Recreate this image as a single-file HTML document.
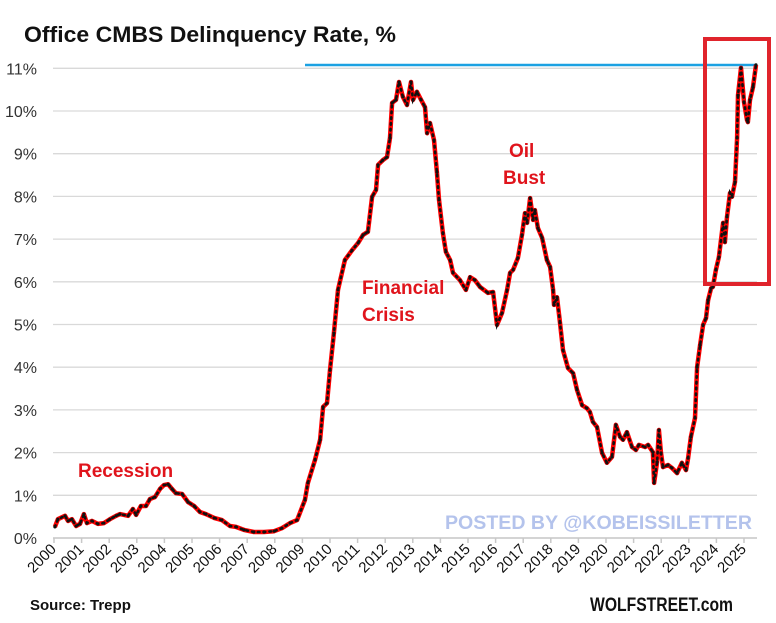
<!DOCTYPE html>
<html><head><meta charset="utf-8"><style>
body{margin:0;background:#fff;}
svg{display:block;font-family:"Liberation Sans",Arial,sans-serif;}
</style></head><body>
<svg width="776" height="623" viewBox="0 0 776 623">
<text x="24" y="42" font-size="22" font-weight="bold" fill="#111" textLength="372" lengthAdjust="spacingAndGlyphs">Office CMBS Delinquency Rate, %</text>
<g id="grid"></g>
<g id="yl"></g>
<g id="xl"></g>
<line x1="305" y1="65" x2="757" y2="65" stroke="#1ba1e2" stroke-width="2.5"/>
<text x="445" y="529" font-size="19" font-weight="bold" fill="#b4c3ec" textLength="307" lengthAdjust="spacingAndGlyphs">POSTED BY @KOBEISSILETTER</text>
<g id="series"></g>
<rect x="705" y="39" width="64" height="245" fill="none" stroke="#e0242c" stroke-width="4"/>
<text x="78" y="477" font-size="19" font-weight="bold" fill="#e0141c">Recession</text>
<text x="362" y="294" font-size="19" font-weight="bold" fill="#e0141c"><tspan x="362">Financial</tspan><tspan x="362" dy="27">Crisis</tspan></text>
<text x="509" y="157" font-size="19" font-weight="bold" fill="#e0141c"><tspan x="509">Oil</tspan><tspan x="503" dy="27">Bust</tspan></text>
<text x="30" y="610" font-size="15" font-weight="bold" fill="#111">Source: Trepp</text>
<text x="733" y="611" font-size="19" font-weight="bold" fill="#111" text-anchor="end" textLength="143" lengthAdjust="spacingAndGlyphs">WOLFSTREET.com</text>
</svg>
<script>
// months since Jan 2000
const months=[0.4,1.7,4.8,6.1,7.8,9.6,11.3,13.0,14.3,16.5,19.1,21.7,24.3,27.0,28.7,32.2,34.3,35.7,37.8,40.0,41.7,43.9,46.1,47.8,49.6,51.3,53.0,55.7,58.3,60.9,63.5,66.1,69.6,73.0,76.5,79.1,82.6,86.9,91.3,95.7,99.1,102.6,
105.7,109.1,110.4,113.5,115.7,117.0,118.7,120.0,121.7,123.5,126.5,129.6,132.2,134.4,136.5,138.3,140.0,140.9,143.0,144.8,146.1,147.0,148.7,150.0,151.7,153.5,155.2,156.1,157.8,159.6,161.3,162.2,163.5,165.2,166.5,167.4,169.1,170.4,172.2,173.5,176.5,179.1,180.9,183.0,185.2,188.7,
190.9,192.6,194.8,197.0,198.3,199.6,201.7,203.5,204.8,205.7,207.0,208.3,209.1,210.4,212.2,214.3,215.7,217.0,217.4,218.7,220.0,221.3,223.5,225.7,227.4,229.6,231.7,233.0,234.3,236.1,238.3,240.4,242.6,244.3,246.1,247.4,249.1,251.3,253.0,254.3,
257.0,258.3,260.4,260.9,262.2,263.0,263.9,264.8,267.0,268.7,270.9,273.0,274.8,275.7,276.9,278.7,279.6,280.9,282.2,283.5,284.4,285.7,286.5,287.8,289.1,290.9,291.7,292.6,293.9,294.8,296.1,297.0,297.4,298.7,300.0,301.3,301.7,302.6,303.9,305.2];
const rates=[0.26,0.44,0.52,0.40,0.44,0.28,0.33,0.56,0.35,0.40,0.33,0.35,0.44,0.52,0.56,0.52,0.68,0.54,0.75,0.75,0.91,0.96,1.15,1.24,1.26,1.15,1.05,1.03,0.84,0.75,0.61,0.56,0.47,0.42,0.28,0.26,0.19,0.14,0.14,0.16,0.23,0.35,
0.42,0.89,1.29,1.83,2.30,3.07,3.16,3.93,4.80,5.81,6.51,6.74,6.91,7.10,7.17,7.99,8.15,8.74,8.85,8.92,9.37,10.19,10.26,10.68,10.33,10.14,10.68,10.26,10.45,10.26,10.09,9.48,9.72,9.32,8.57,7.92,7.14,6.70,6.51,6.21,6.04,5.81,6.11,6.04,5.88,5.74,
5.76,4.99,5.27,5.81,6.21,6.28,6.56,7.10,7.61,7.38,7.96,7.45,7.68,7.26,7.03,6.51,6.35,5.81,5.46,5.64,5.04,4.40,3.98,3.86,3.47,3.11,3.04,2.95,2.72,2.60,1.99,1.76,1.90,2.65,2.37,2.30,2.48,2.13,2.06,2.18,
2.13,2.18,2.01,1.29,1.78,2.53,1.99,1.66,1.71,1.64,1.52,1.76,1.59,1.87,2.37,2.81,4.00,4.52,4.99,5.15,5.57,5.85,5.88,6.28,6.58,7.38,6.93,7.52,8.08,7.99,8.34,9.37,10.37,11.01,10.21,9.79,9.74,10.26,10.56,11.08];
const yTicks=[0,1,2,3,4,5,6,7,8,9,10,11];
const years=[2000,2001,2002,2003,2004,2005,2006,2007,2008,2009,2010,2011,2012,2013,2014,2015,2016,2017,2018,2019,2020,2021,2022,2023,2024,2025];

const NS="http://www.w3.org/2000/svg";
const X=m=>54+m*2.3;
const Y=v=>538-v*42.7;
function mk(t,a,p){const e=document.createElementNS(NS,t);for(const k in a)e.setAttribute(k,a[k]);p.appendChild(e);return e;}
const grid=document.getElementById('grid'),yl=document.getElementById('yl'),xl=document.getElementById('xl'),ser=document.getElementById('series');
yTicks.forEach(v=>{
  const l=mk('line',{x1:53,x2:757,y1:Y(v),y2:Y(v),stroke:'#d9d9d9','stroke-width':1.3},grid);
  
  
  const t=mk('text',{x:37,y:Y(v)+6,'font-size':16,fill:'#333','text-anchor':'end'},yl);
  t.textContent=v+'%';
  
  
});
const ax=mk('line',{x1:53,x2:757,y1:538,y2:538,stroke:'#c8c8c8','stroke-width':1.5},grid);


years.forEach(yr=>{
  const x=X((yr-2000)*12);
  const tk=mk('line',{x1:x,x2:x,y1:538,y2:543,stroke:'#c8c8c8','stroke-width':1.5},grid);
  
  
  const t=mk('text',{x:x+3,y:550,'font-size':15,fill:'#111','text-anchor':'end',transform:`rotate(-45 ${x+3} 550)`},xl);
  t.textContent=yr;
  
  
});
const d=months.map((m,i)=>(i?'L':'M')+X(m).toFixed(1)+' '+Y(rates[i]).toFixed(1)).join(' ');
const p1=mk('path',{d:d,fill:'none',stroke:'#ff0000','stroke-width':4.5,'stroke-linejoin':'round'},ser);


const p2=mk('path',{d:d,fill:'none',stroke:'#111','stroke-width':2.6,'stroke-dasharray':'1.6 4.2','stroke-linecap':'round'},ser);


months.forEach((m,i)=>{
  const c=mk('circle',{cx:X(m),cy:Y(rates[i]),r:1.6,fill:'#111'},ser);
  
  
});
</script>
</body></html>
